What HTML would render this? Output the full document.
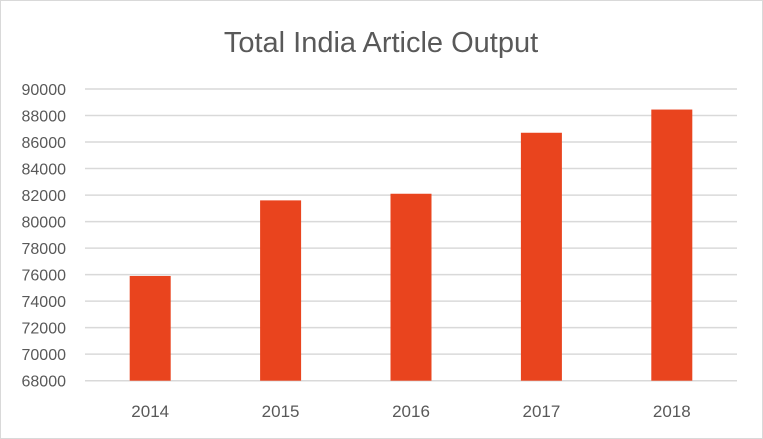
<!DOCTYPE html>
<html><head><meta charset="utf-8"><style>
html,body{margin:0;padding:0;background:#fff;}
svg{display:block;font-family:"Liberation Sans",sans-serif;}
</style></head><body>
<svg id="chart" width="763" height="439">
<rect x="0.5" y="0.5" width="762" height="438" fill="#fff" stroke="#d9d9d9"/>
<text x="381" y="52" text-anchor="middle" font-size="29" fill="#595959">Total India Article Output</text>
<g id="grid"></g><g id="bars"></g><g id="ylabels"></g><g id="xlabels"></g>
</svg>
<script>
const categories = ["2014","2015","2016","2017","2018"];
const values = [75900, 81600, 82100, 86700, 88450];
const yTicks = [68000,70000,72000,74000,76000,78000,80000,82000,84000,86000,88000,90000];
const yMin = 68000, yMax = 90000;
const plotL = 85, plotR = 737, plotT = 89, plotB = 380.7;
const ns = "http://www.w3.org/2000/svg";
function y(v){return plotB - (v - yMin)/(yMax - yMin)*(plotB - plotT);}
const band = (plotR - plotL)/categories.length;
function xc(i){return plotL + band*(i+0.5);}
const barW = 41;
const grid = document.getElementById("grid"), bars = document.getElementById("bars");
const yl = document.getElementById("ylabels"), xl = document.getElementById("xlabels");
yTicks.forEach(t=>{
  const l = document.createElementNS(ns,"line");
  
  
  l.setAttribute("x1",plotL);l.setAttribute("x2",plotR);
  l.setAttribute("y1",y(t));l.setAttribute("y2",y(t));
  l.setAttribute("stroke","#d9d9d9");l.setAttribute("stroke-width","1.5");
  grid.appendChild(l);
  const tx = document.createElementNS(ns,"text");
  
  
  tx.setAttribute("x",66);tx.setAttribute("y",y(t)+6);
  tx.setAttribute("text-anchor","end");tx.setAttribute("font-size","16");tx.setAttribute("fill","#595959");
  tx.textContent = t; yl.appendChild(tx);
});
categories.forEach((c,i)=>{
  const r = document.createElementNS(ns,"rect");
  
  
  r.setAttribute("x",xc(i)-barW/2);r.setAttribute("y",y(values[i]));
  r.setAttribute("width",barW);r.setAttribute("height",plotB - y(values[i]));
  r.setAttribute("fill","#e9441e");
  bars.appendChild(r);
  const tx = document.createElementNS(ns,"text");
  
  
  tx.setAttribute("x",xc(i));tx.setAttribute("y",417);
  tx.setAttribute("text-anchor","middle");tx.setAttribute("font-size","17");tx.setAttribute("fill","#595959");
  tx.textContent = c; xl.appendChild(tx);
});
</script>
</body></html>
